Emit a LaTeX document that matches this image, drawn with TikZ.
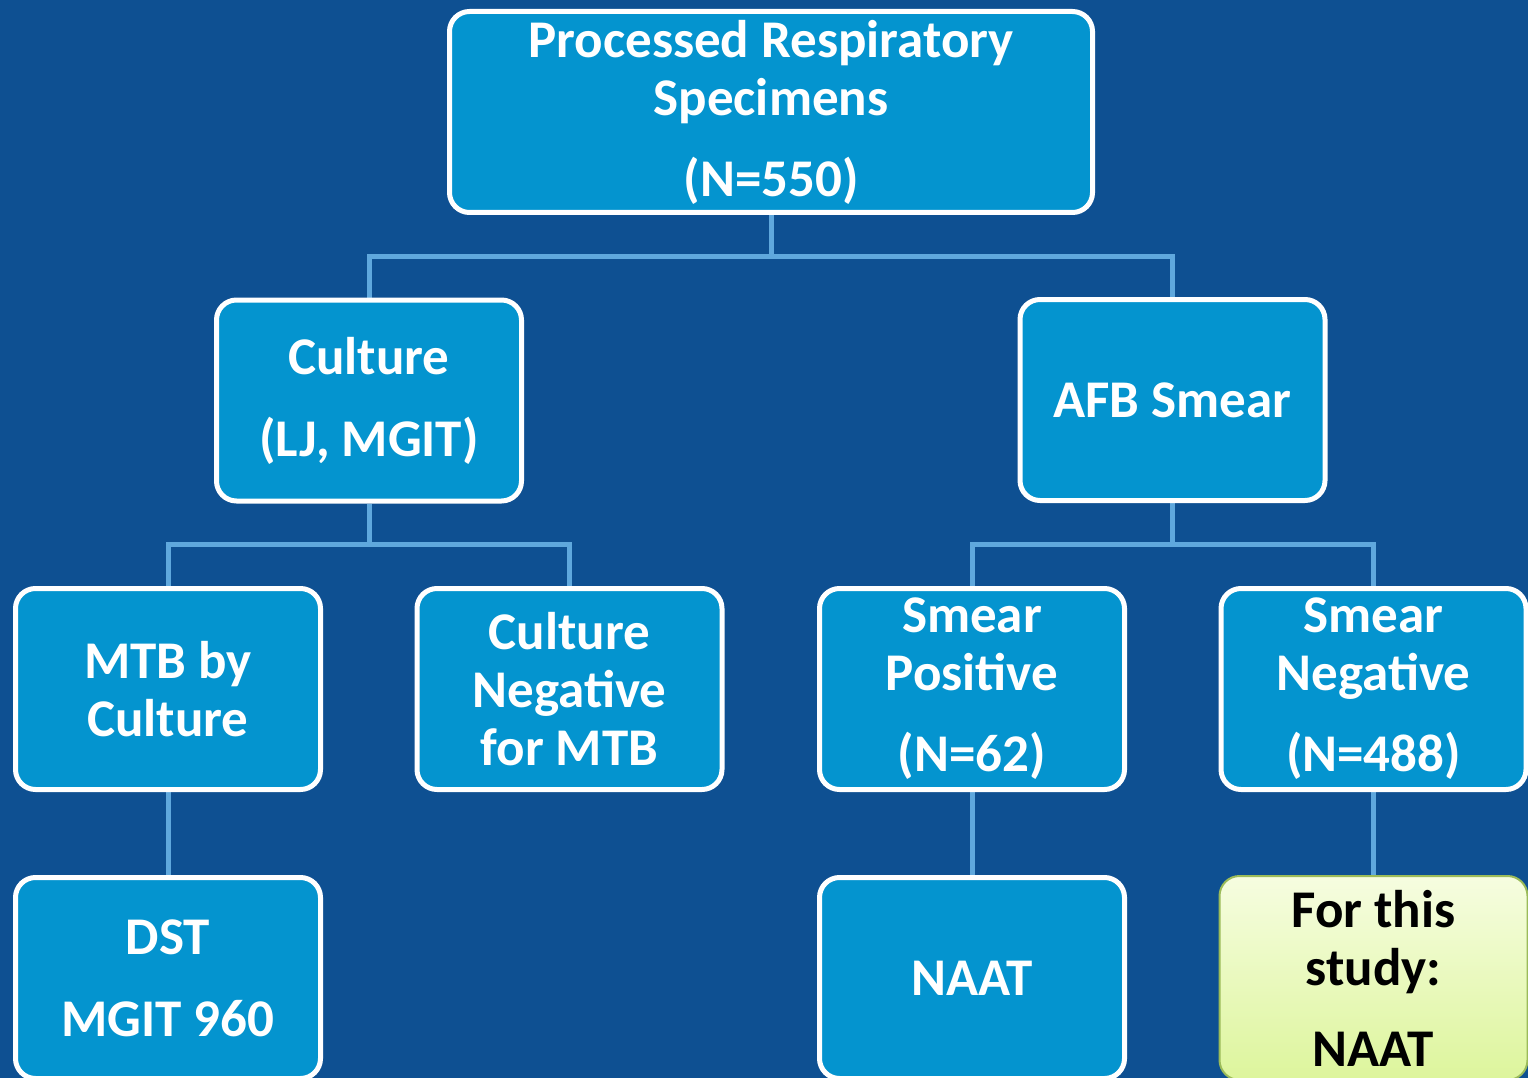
\documentclass[tikz,border=0pt]{standalone}
\usepackage{fontspec}
\setmainfont{Carlito}
\usetikzlibrary{backgrounds}
\definecolor{bgblue}{HTML}{0E5092}
\definecolor{boxblue}{HTML}{0494CF}
\definecolor{linkblue}{HTML}{5FA8DD}
\definecolor{greentop}{HTML}{F6FDE0}
\definecolor{greenbot}{HTML}{DDF59C}
\definecolor{greenline}{HTML}{9BBB59}
\tikzset{
  box/.style={draw=white, line width=5pt, rounded corners=20pt, fill=boxblue,
    minimum width=305pt, minimum height=201pt, inner sep=0pt, text=white,
    font=\bfseries\fontsize{53}{58}\selectfont, align=center},
  greenbox/.style={box, draw=greenline, line width=2pt, top color=greentop,
    bottom color=greenbot, text=black, minimum width=308pt, minimum height=204pt},
  link/.style={draw=linkblue, line width=5pt}
}
\begin{document}
\begin{tikzpicture}[x=1pt,y=-1pt]
\useasboundingbox (0,0) rectangle (1528,1078);
\clip (0,0) rectangle (1528,1078);
\node[box, minimum width=643pt] (top) at (771,112) {Processed Respiratory\\Specimens\\[23pt](N=550)};
\node[box] (cult) at (369,400.5) {Culture\\[24pt](LJ, MGIT)};
\node[box] (afb) at (1172.5,400) {AFB Smear};
\node[box] (mtb) at (168,689) {MTB by\\Culture};
\node[box] (neg) at (569.5,689) {Culture\\Negative\\for MTB};
\node[box] (spos) at (972,689) {Smear\\Positive\\[23pt](N=62)};
\node[box] (sneg) at (1373.5,689) {Smear\\Negative\\[23pt](N=488)};
\node[box] (dst) at (168,978) {DST\\[24pt]MGIT 960};
\node[box] (naat) at (972,978) {NAAT};
\node[greenbox] (study) at (1373.5,978) {For this\\study:\\[23pt]NAAT};
\begin{scope}[on background layer]
\fill[bgblue] (0,0) rectangle (1528,1078);
\draw[link] (top.south) -- ++(0,41) -| (cult.north);
\draw[link] (top.south) -- ++(0,41) -| (afb.north);
\draw[link] (cult.south) -- ++(0,41) -| (mtb.north);
\draw[link] (cult.south) -- ++(0,41) -| (neg.north);
\draw[link] (afb.south) -- ++(0,41) -| (spos.north);
\draw[link] (afb.south) -- ++(0,41) -| (sneg.north);
\draw[link] (mtb.south) -- (dst.north);
\draw[link] (spos.south) -- (naat.north);
\draw[link] (sneg.south) -- (study.north);
\end{scope}
\end{tikzpicture}
\end{document}
